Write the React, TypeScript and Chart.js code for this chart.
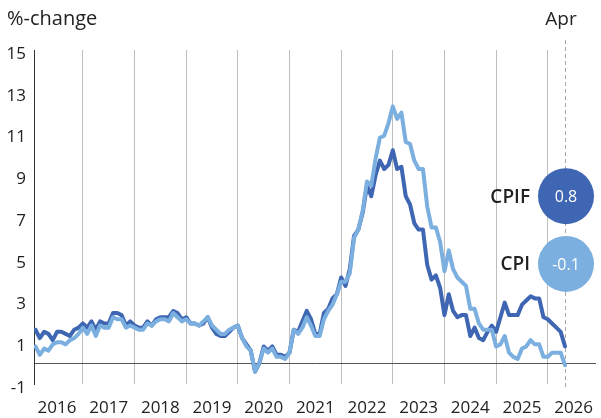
import { useEffect, useRef } from "react";
import { Chart, registerables } from "chart.js";

Chart.register(...registerables);

// Year tick labels (one per calendar year, Jan 2016 .. Apr 2026)
const years: string[] = ["2016", "2017", "2018", "2019", "2020", "2021", "2022", "2023", "2024", "2025", "2026"];
const monthNames: string[] = ["Jan", "Feb", "Mar", "Apr", "May", "Jun", "Jul", "Aug", "Sep", "Oct", "Nov", "Dec"];

// CPIF, annual %-change, monthly Jan 2016 .. Apr 2026
const cpif: number[] = [
  1.6, 1.2, 1.5, 1.4, 1.1, 1.5, 1.5, 1.4, 1.3, 1.6, 1.7, 1.9,
  1.7, 2.0, 1.6, 2.0, 1.9, 1.9, 2.4, 2.4, 2.3, 1.8, 2.0, 1.8,
  1.7, 1.7, 2.0, 1.8, 2.1, 2.2, 2.2, 2.2, 2.5, 2.4, 2.1, 2.2,
  1.9, 1.9, 1.8, 1.9, 2.2, 1.7, 1.4, 1.3, 1.3, 1.5, 1.7, 1.8,
  1.2, 0.9, 0.6, -0.4, 0.0, 0.8, 0.6, 0.8, 0.4, 0.4, 0.3, 0.5,
  1.6, 1.5, 2.0, 2.5, 2.1, 1.4, 1.4, 2.4, 2.6, 3.1, 3.3, 4.1,
  3.7, 4.5, 6.1, 6.4, 7.2, 8.5, 8.0, 9.0, 9.7, 9.3, 9.5, 10.2,
  9.3, 9.4, 8.0, 7.6, 6.7, 6.4, 6.4, 4.7, 4.0, 4.2, 3.6, 2.3,
  3.3, 2.5, 2.2, 2.3, 2.3, 1.3, 1.7, 1.2, 1.1, 1.5, 1.8, 1.5,
  2.2, 2.9, 2.3, 2.3, 2.3, 2.8, 3.0, 3.2, 3.1, 3.1, 2.2, 2.1,
  1.9, 1.7, 1.5, 0.8,
];

// CPI, annual %-change, monthly Jan 2016 .. Apr 2026
const cpi: number[] = [
  0.8, 0.4, 0.7, 0.6, 0.9, 1.0, 1.0, 0.9, 1.1, 1.2, 1.4, 1.7,
  1.4, 1.8, 1.3, 1.8, 1.7, 1.7, 2.2, 2.1, 2.1, 1.7, 1.8, 1.7,
  1.6, 1.6, 1.9, 1.8, 2.0, 2.1, 2.1, 2.0, 2.4, 2.2, 2.0, 2.1,
  1.9, 1.9, 1.8, 2.0, 2.2, 1.8, 1.6, 1.4, 1.4, 1.6, 1.7, 1.8,
  1.2, 0.8, 0.6, -0.4, 0.0, 0.7, 0.5, 0.7, 0.3, 0.3, 0.2, 0.5,
  1.6, 1.4, 1.7, 2.2, 1.8, 1.3, 1.3, 2.1, 2.5, 2.8, 3.3, 3.9,
  3.9, 4.3, 6.0, 6.4, 7.3, 8.7, 8.5, 9.8, 10.8, 10.9, 11.5, 12.3,
  11.7, 12.0, 10.6, 10.5, 9.7, 9.3, 9.3, 7.5, 6.5, 6.5, 5.8, 4.4,
  5.4, 4.5, 4.1, 3.9, 3.7, 2.6, 2.6, 1.9, 1.6, 1.6, 1.6, 0.8,
  0.9, 1.3, 0.5, 0.3, 0.2, 0.7, 0.8, 1.1, 0.9, 0.9, 0.3, 0.3,
  0.5, 0.5, 0.5, -0.1,
];

// Y-axis tick values
const yTickValues: number[] = [-1, 1, 3, 5, 7, 9, 11, 13, 15];

const CPIF_COLOR = "#3e66b2";
const CPI_COLOR = "#7aafe0";
const FONT = "'Open Sans', sans-serif";
const TEXT = "#222222";

export default function App() {
  const ref = useRef<HTMLCanvasElement>(null);

  useEffect(() => {
    document.body.style.margin = "0";
    const canvas = ref.current!;
    const lastIdx = cpif.length - 1;

    // year boundaries (December points) and mid-year label positions
    const gridIdx = years.slice(0, years.length - 1).map((_, k) => 11 + 12 * k);
    const labelIdx = years.map((_, k) => 5 + 12 * k);

    const annot = {
      id: "annot",
      beforeDatasetsDraw(chart: any) {
        const { ctx, chartArea, scales } = chart;
        const x = Math.round(scales.x.getPixelForValue(lastIdx)) + 0.5;
        ctx.save();
        ctx.strokeStyle = "#a8a8a8";
        ctx.lineWidth = 1;
        ctx.setLineDash([4, 3]);
        ctx.beginPath();
        ctx.moveTo(x, 40);
        ctx.lineTo(x, chartArea.bottom + 4);
        ctx.stroke();
        ctx.restore();
      },
      afterDatasetsDraw(chart: any) {
        const { ctx, scales } = chart;
        const cx = scales.x.getPixelForValue(lastIdx) + 1;
        const bubbles = [
          { name: "CPIF", value: cpif[lastIdx], color: CPIF_COLOR, at: 8.0 },
          { name: "CPI", value: cpi[lastIdx], color: CPI_COLOR, at: 4.75 },
        ];
        ctx.save();
        for (const b of bubbles) {
          const cy = scales.y.getPixelForValue(b.at);
          ctx.fillStyle = b.color;
          ctx.beginPath();
          ctx.arc(cx, cy, 28, 0, Math.PI * 2);
          ctx.fill();
          ctx.fillStyle = "#ffffff";
          ctx.font = `400 16px ${FONT}`;
          ctx.textAlign = "center";
          ctx.textBaseline = "middle";
          ctx.fillText(b.value.toFixed(1), cx, cy + 1);
          ctx.fillStyle = TEXT;
          ctx.font = `600 19px ${FONT}`;
          ctx.textAlign = "right";
          ctx.fillText(b.name, cx - 36, cy + 1);
        }
        ctx.restore();
      },
      afterDraw(chart: any) {
        const { ctx, scales } = chart;
        ctx.save();
        ctx.fillStyle = TEXT;
        ctx.font = `400 20px ${FONT}`;
        ctx.textBaseline = "alphabetic";
        ctx.textAlign = "left";
        ctx.fillText("%-change", 7, 25);
        ctx.font = `400 19px ${FONT}`;
        ctx.textAlign = "center";
        ctx.fillText(monthNames[lastIdx % 12], scales.x.getPixelForValue(lastIdx) - 4, 25);
        ctx.restore();
      },
    };

    const chart = new Chart(canvas, {
      type: "line",
      data: {
        datasets: [
          {
            label: "CPI",
            data: cpi.map((y, i) => ({ x: i, y })),
            borderColor: CPI_COLOR,
            borderWidth: 4,
            pointRadius: 0,
            borderJoinStyle: "round",
            borderCapStyle: "round",
            tension: 0,
            order: 0,
          },
          {
            label: "CPIF",
            data: cpif.map((y, i) => ({ x: i, y })),
            borderColor: CPIF_COLOR,
            borderWidth: 4,
            pointRadius: 0,
            borderJoinStyle: "round",
            borderCapStyle: "round",
            tension: 0,
            order: 1,
          },
        ],
      },
      options: {
        animation: false,
        responsive: false,
        devicePixelRatio: 1,
        layout: { padding: { top: 50, right: 5, left: 0, bottom: 0 } },
        plugins: { legend: { display: false }, tooltip: { enabled: false } },
        scales: {
          x: {
            type: "linear",
            min: -0.35,
            max: 130.2,
            afterBuildTicks: (s: any) => {
              s.ticks = [...gridIdx, ...labelIdx].sort((a, b) => a - b).map((v) => ({ value: v }));
            },
            afterFit: (s: any) => {
              s.height = 34;
              s.paddingLeft = 0;
              s.paddingRight = 0;
            },
            grid: {
              color: (c: any) => (gridIdx.includes(c.tick?.value) ? "#bdbdbd" : "rgba(0,0,0,0)"),
              lineWidth: 1,
              drawTicks: false,
            },
            border: { display: false },
            ticks: {
              autoSkip: false,
              maxRotation: 0,
              minRotation: 0,
              padding: 14,
              color: TEXT,
              font: { family: FONT, size: 17 },
              callback: (v: any) => {
                const k = labelIdx.indexOf(Number(v));
                return k >= 0 ? years[k] : "";
              },
            },
          },
          y: {
            type: "linear",
            min: -1,
            max: 15,
            afterBuildTicks: (s: any) => {
              s.ticks = [...yTickValues, 0].sort((a, b) => a - b).map((v) => ({ value: v }));
            },
            afterFit: (s: any) => {
              s.width = 34;
              s.paddingTop = 0;
              s.paddingBottom = 0;
            },
            grid: {
              color: (c: any) => (c.tick?.value === 0 ? "#555555" : "rgba(0,0,0,0)"),
              lineWidth: 1,
              drawTicks: false,
            },
            border: { display: true, color: "#333333", width: 1 },
            ticks: {
              padding: 8,
              labelOffset: 4,
              color: TEXT,
              font: { family: FONT, size: 17 },
              callback: (v: any) => (Number(v) === 0 ? "" : String(v)),
            },
          },
        },
      },
      plugins: [annot],
    } as any);

    return () => chart.destroy();
  }, []);

  return <canvas ref={ref} width={601} height={418} style={{ display: "block" }} />;
}
